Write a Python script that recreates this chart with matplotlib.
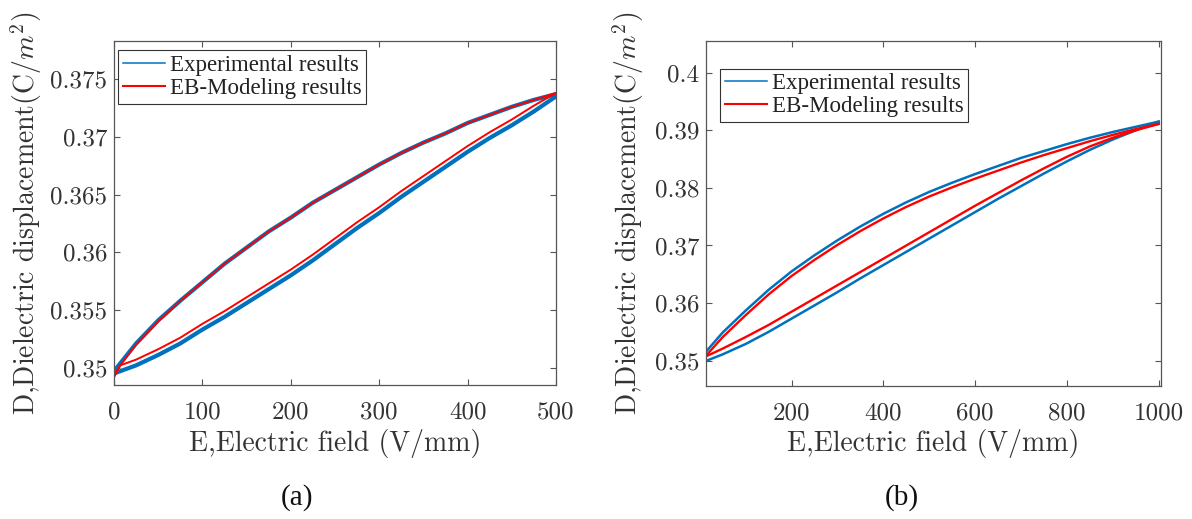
import matplotlib
matplotlib.use("Agg")
import matplotlib.pyplot as plt
from matplotlib.lines import Line2D
from matplotlib.ticker import FuncFormatter

plt.rcParams["font.family"] = "cmr10"
plt.rcParams["mathtext.fontset"] = "cm"
plt.rcParams["axes.unicode_minus"] = False
plt.rcParams["axes.formatter.use_mathtext"] = True

# ---- (a) 0-500 V/mm loop ----
Ea_model = [0, 7, 25, 50, 75, 100, 125, 150, 175, 200, 225, 250, 275, 300,
            325, 350, 375, 400, 425, 450, 475, 500]
# loading branch (E rising)
Da_model_up = [0.3492, 0.3502, 0.3507, 0.3516, 0.3526, 0.3538, 0.3549,
               0.3561, 0.3573, 0.3585, 0.3598, 0.3612, 0.3626, 0.3639,
               0.3653, 0.3666, 0.3679, 0.3692, 0.3704, 0.3715, 0.3727,
               0.3738]
# unloading branch, listed on the same rising E grid
Da_model_dn = [0.3492, 0.3502, 0.3520, 0.3540, 0.3558, 0.3574, 0.3590,
               0.3604, 0.3618, 0.3630, 0.3643, 0.3654, 0.3665, 0.3676,
               0.3686, 0.3695, 0.3703, 0.3712, 0.3719, 0.3726, 0.3732,
               0.3738]

Ea_exp = [0, 25, 50, 75, 100, 125, 150, 175, 200, 225, 250, 275, 300, 325,
          350, 375, 400, 425, 450, 475, 500]
Da_exp_up = [0.3495, 0.3502, 0.3511, 0.3521, 0.3533, 0.3544, 0.3556,
             0.3568, 0.3580, 0.3593, 0.3607, 0.3621, 0.3634, 0.3648,
             0.3661, 0.3674, 0.3687, 0.3699, 0.3710, 0.3722, 0.3735]
Da_exp_dn = [0.3497, 0.3521, 0.3541, 0.3558, 0.3574, 0.3590, 0.3604,
             0.3618, 0.3630, 0.3643, 0.3654, 0.3665, 0.3676, 0.3686,
             0.3695, 0.3703, 0.3712, 0.3719, 0.3726, 0.3732, 0.3737]

# ---- (b) 0-1000 V/mm loop ----
Eb = [15, 50, 100, 150, 200, 250, 300, 350, 400, 450, 500, 550, 600, 650,
      700, 750, 800, 850, 900, 950, 1000]
Db_model_up = [0.3508, 0.3521, 0.3541, 0.3562, 0.3585, 0.3608, 0.3631,
               0.3654, 0.3677, 0.3700, 0.3723, 0.3746, 0.3769, 0.3791,
               0.3813, 0.3834, 0.3854, 0.3872, 0.3887, 0.3900, 0.3911]
Db_model_dn = [0.3510, 0.3541, 0.3579, 0.3615, 0.3647, 0.3675, 0.3701,
               0.3725, 0.3747, 0.3767, 0.3785, 0.3801, 0.3816, 0.3830,
               0.3844, 0.3857, 0.3869, 0.3881, 0.3892, 0.3902, 0.3911]
Db_exp_up = [0.3500, 0.3511, 0.3529, 0.3550, 0.3573, 0.3596, 0.3619,
             0.3643, 0.3666, 0.3689, 0.3712, 0.3735, 0.3758, 0.3781,
             0.3803, 0.3825, 0.3846, 0.3866, 0.3884, 0.3900, 0.3915]
Db_exp_dn = [0.3517, 0.3549, 0.3587, 0.3623, 0.3655, 0.3683, 0.3709,
             0.3733, 0.3755, 0.3775, 0.3793, 0.3809, 0.3824, 0.3838,
             0.3852, 0.3864, 0.3876, 0.3887, 0.3897, 0.3906, 0.3915]

xticks_a = [0, 100, 200, 300, 400, 500]
yticks_a = [0.35, 0.355, 0.36, 0.365, 0.37, 0.375]
xticks_b = [200, 400, 600, 800, 1000]
yticks_b = [0.35, 0.36, 0.37, 0.38, 0.39, 0.40]

labels = ["Experimental results", "EB-Modeling results"]
BLUE = "#0072BD"
RED = "#FF0000"
TXT = "#333333"
AX = "#555555"

W, H = 1192, 519
fig = plt.figure(figsize=(W / 100, H / 100), dpi=100)
ax_a = fig.add_axes([114 / W, 1 - 385 / H, 442 / W, 344 / H])
ax_b = fig.add_axes([706 / W, 1 - 386 / H, 455 / W, 345 / H])

# (a) experimental trace is noisy, so it reads as a thick band
ax_a.plot(Ea_exp, Da_exp_up, color=BLUE, lw=3.0, solid_joinstyle="round")
ax_a.plot(Ea_exp, Da_exp_dn, color=BLUE, lw=3.0, solid_joinstyle="round")
ax_a.plot(Ea_model, Da_model_up, color=RED, lw=1.4)
ax_a.plot(Ea_model, Da_model_dn, color=RED, lw=1.4)
ax_a.set_xlim(0, 500)
ax_a.set_ylim(0.3485, 0.3783)
ax_a.set_xticks(xticks_a)
ax_a.set_yticks(yticks_a)

ax_b.plot(Eb, Db_exp_up, color=BLUE, lw=1.8)
ax_b.plot(Eb, Db_exp_dn, color=BLUE, lw=1.8)
ax_b.plot(Eb, Db_model_up, color=RED, lw=1.7)
ax_b.plot(Eb, Db_model_dn, color=RED, lw=1.7)
ax_b.set_xlim(13.5, 1005)
ax_b.set_ylim(0.3456, 0.4055)
ax_b.set_xticks(xticks_b)
ax_b.set_yticks(yticks_b)

fmt = FuncFormatter(lambda v, p: "%g" % round(v, 4))

for ax, xl, yl, leg in [
    (ax_a, -0.1715, -0.199, (4 / 442, 1 - 9 / 344)),
    (ax_b, -0.1667, -0.1714, (14 / 455, 1 - 27.5 / 345)),
]:
    ax.yaxis.set_major_formatter(fmt)
    ax.xaxis.set_major_formatter(fmt)
    for s in ax.spines.values():
        s.set_color(AX)
        s.set_linewidth(0.9)
    ax.tick_params(direction="in", top=True, right=True, length=4,
                   width=0.8, color=AX, labelcolor=TXT, labelsize=18)
    ax.tick_params(axis="x", pad=12)
    ax.tick_params(axis="y", pad=5)
    ax.set_xlabel("E,Electric field (V/mm)", fontsize=20, color=TXT, va="center")
    ax.xaxis.set_label_coords(0.5, xl)
    ax.set_ylabel(r"D,Dielectric displacement(C/$m^2$)", fontsize=20,
                  color=TXT, va="center")
    ax.yaxis.set_label_coords(yl, 0.5)

    handles = [Line2D([], [], color=BLUE, lw=1.1),
               Line2D([], [], color=RED, lw=1.5)]
    lg = ax.legend(handles, labels, loc="upper left", bbox_to_anchor=leg,
                   borderaxespad=0, fancybox=False, framealpha=1,
                   edgecolor="#333333",
                   prop={"family": "Liberation Serif", "size": 16.5},
                   handlelength=1.85, handletextpad=0.2, labelspacing=0.1,
                   borderpad=0.2)
    lg.get_frame().set_linewidth(0.8)
    for t in lg.get_texts():
        t.set_color("#222222")

fig.text(296.7 / W, 1 - 497.5 / H, "(a)", ha="center", va="center",
         family="Liberation Serif", fontsize=21, color="#111111")
fig.text(901.7 / W, 1 - 498 / H, "(b)", ha="center", va="center",
         family="Liberation Serif", fontsize=21, color="#111111")

fig.savefig("out.png", dpi=100)
